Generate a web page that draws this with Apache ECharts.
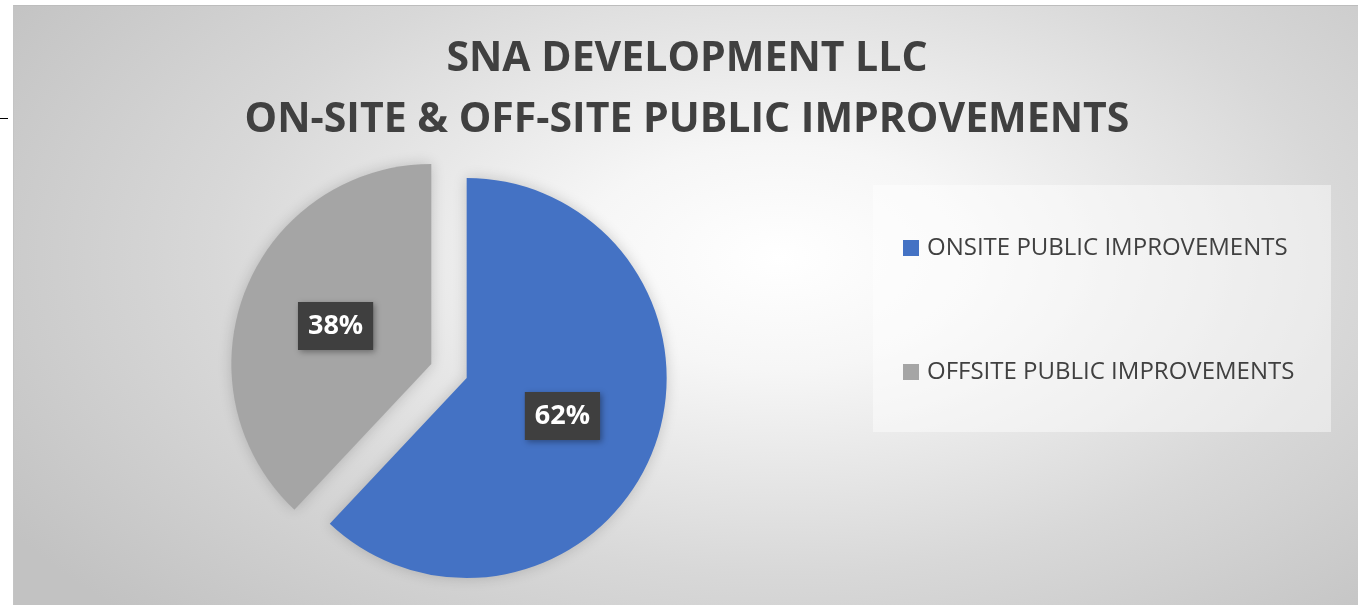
<!DOCTYPE html>
<html>
<head>
<meta charset="utf-8">
<script src="https://cdn.jsdelivr.net/npm/echarts@6/dist/echarts.min.js"></script>
<style>
  html, body { margin: 0; padding: 0; background: #fff; }
  #bg {
    position: absolute; left: 13px; top: 5px; width: 1345px; height: 600px;
    border-top: 1px solid #bdbdbd; border-left: 1px solid #c4c4c4; box-sizing: border-box;
    background: radial-gradient(ellipse 68% 85% at 57% 42%, #ffffff 0%, #f6f6f6 22%, #d8d8d8 62%, #c2c2c2 100%);
  }
  #main { position: absolute; left: 0; top: 0; width: 1358px; height: 605px; }
</style>
</head>
<body>
<div id="bg"></div>
<div id="main"></div>
<script>
const titleLines = ['SNA DEVELOPMENT LLC', 'ON-SITE & OFF-SITE PUBLIC IMPROVEMENTS'];
const categories = ['ONSITE PUBLIC IMPROVEMENTS', 'OFFSITE PUBLIC IMPROVEMENTS'];
const shares = [62, 38];
const colors = ['#4472c4', '#a5a5a5'];

const chart = echarts.init(document.getElementById('main'));
const option = {
    animation: false,
    backgroundColor: 'transparent',
    title: {
        text: titleLines.join('\n'),
        left: 687,
        textAlign: 'center',
        top: 29,
        padding: 0,
        textStyle: {
            fontFamily: 'Open Sans',
            fontWeight: 'bold',
            fontSize: 41,
            lineHeight: 61,
            color: '#404040',
        },
    },
    graphic: [
        {
            type: 'rect',
            shape: { x: 873, y: 185, width: 458, height: 247 },
            style: { fill: 'rgba(255,255,255,0.45)' },
            silent: true,
        },
        {
            type: 'line',
            shape: { x1: 0, y1: 118.5, x2: 8, y2: 118.5 },
            style: { stroke: '#000', lineWidth: 1 },
            silent: true,
        },
    ],
    legend: {
        orient: 'vertical',
        left: 903,
        top: 235,
        padding: 0,
        itemWidth: 16,
        itemHeight: 16,
        itemGap: 98,
        icon: 'rect',
        data: categories,
        selectedMode: false,
        textStyle: {
            fontFamily: 'Open Sans',
            fontSize: 24,
            lineHeight: 26,
            color: '#404040',
            padding: [0, 0, 0, 3],
        },
    },
    series: [
        {
            type: 'pie',
            center: [449, 371],
            radius: 200,
            startAngle: 90,
            clockwise: true,
            selectedMode: 'multiple',
            selectedOffset: 19,
            emphasis: { disabled: true },
            itemStyle: {
                shadowBlur: 14,
                shadowColor: 'rgba(0,0,0,0.18)',
            },
            label: {
                show: true,
                position: 'inner',
                formatter: '{d}%',
                fontFamily: 'Open Sans',
                fontWeight: 'bold',
                fontSize: 27,
                lineHeight: 30,
                color: '#ffffff',
                backgroundColor: '#3f3f3f',
                padding: [9, 10],
                shadowBlur: 6,
                shadowOffsetX: 2,
                shadowOffsetY: 2,
                shadowColor: 'rgba(0,0,0,0.35)',
            },
            labelLine: { show: false },
            data: categories.map((name, i) => ({
                name,
                value: shares[i],
                selected: true,
                itemStyle: { color: colors[i] },
            })),
        },
    ],
};
chart.setOption(option);
</script>
</body>
</html>
